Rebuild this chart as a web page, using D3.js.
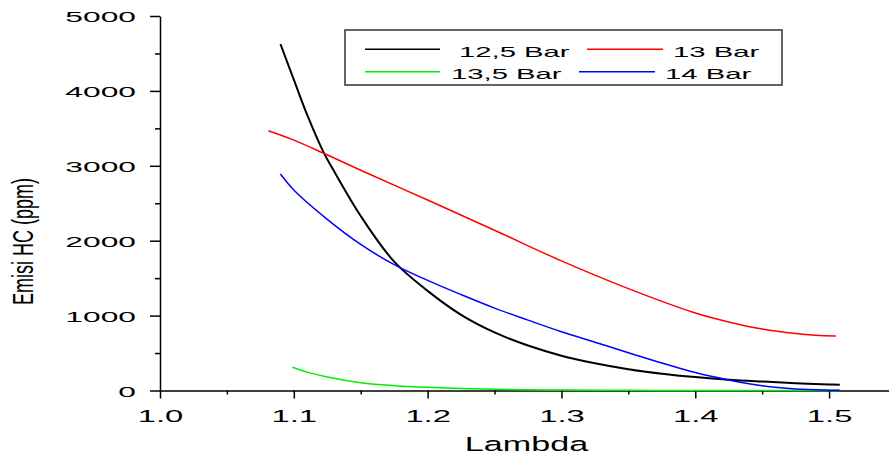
<!DOCTYPE html>
<html>
<head>
<meta charset="utf-8">
<script src="https://d3js.org/d3.v7.min.js"></script>
<style>
  body { margin: 0; background: #fff; }
  text { font-family: "Liberation Sans", Arial, sans-serif; fill: #000; }
</style>
</head>
<body>
<div id="chart"></div>
<script>
////////////////////////////////////////////////////////////
//////////////////////// Data //////////////////////////////
////////////////////////////////////////////////////////////

var names = ['12,5 Bar', '13 Bar', '13,5 Bar', '14 Bar'],
    colors = ['#000000', '#ff0000', '#00ee00', '#0000ff'],
    widths = [2, 1.5, 1.5, 1.5];

var lambda125 = [1.09, 1.10, 1.11, 1.122, 1.13, 1.15, 1.175, 1.2, 1.225, 1.25, 1.275, 1.3, 1.325, 1.35,
                 1.375, 1.4, 1.425, 1.45, 1.475, 1.5, 1.508],
    hc125     = [4626, 4150, 3680, 3190, 2930, 2330, 1720, 1330, 1010, 775, 600, 465, 365, 285,
                 225, 180, 145, 120, 98, 80, 76];

var lambda13 = [1.081, 1.1, 1.122, 1.15, 1.2, 1.25, 1.3, 1.35, 1.4, 1.425, 1.45, 1.475, 1.49, 1.505],
    hc13     = [3468, 3343, 3170, 2940, 2543, 2140, 1730, 1360, 1035, 915, 820, 760, 738, 728];

var lambda135 = [1.099, 1.11, 1.125, 1.15, 1.175, 1.2, 1.25, 1.3, 1.35, 1.4, 1.45, 1.508],
    hc135     = [310, 245, 180, 104, 65, 43, 16, 6, 2, 1, 0, 0];

var lambda14 = [1.09, 1.1, 1.125, 1.15, 1.175, 1.2, 1.225, 1.25, 1.275, 1.3, 1.325, 1.35, 1.375,
                1.4, 1.425, 1.45, 1.475, 1.5, 1.508],
    hc14     = [2890, 2677, 2285, 1950, 1680, 1470, 1280, 1100, 940, 785, 645, 505, 368,
                240, 140, 62, 20, 5, 3];

var xTicks = [1.0, 1.1, 1.2, 1.3, 1.4, 1.5],
    xMinor = [1.05, 1.15, 1.25, 1.35, 1.45],
    yTicks = [0, 1000, 2000, 3000, 4000, 5000],
    yMinor = [500, 1500, 2500, 3500, 4500];

var series = [
  { name: names[0], x: lambda125, y: hc125 },
  { name: names[1], x: lambda13,  y: hc13 },
  { name: names[2], x: lambda135, y: hc135 },
  { name: names[3], x: lambda14,  y: hc14 }
];

////////////////////////////////////////////////////////////
////////////////////// Create SVG //////////////////////////
////////////////////////////////////////////////////////////

var width = 889, height = 464;

var svg = d3.select("#chart").append("svg")
  .attr("width", width)
  .attr("height", height);

var x = d3.scaleLinear().domain([1.0, 1.55]).range([160, 896]),
    y = d3.scaleLinear().domain([0, 5000]).range([390.5, 16]);

////////////////////////////////////////////////////////////
////////////////////// Axes ////////////////////////////////
////////////////////////////////////////////////////////////

// y axis, major + minor ticks
var yAxis = svg.append("g")
  .attr("transform", "translate(160,0)")
  .call(d3.axisLeft(y).tickValues(yTicks).tickSize(10).tickSizeOuter(0)
    .tickFormat(d3.format("d")));

yAxis.selectAll("text")
  .attr("x", null).attr("dy", null)
  .attr("text-anchor", "end")
  .style("font-size", "15.5px")
  .attr("transform", "translate(-24,5.5) scale(2.05,1)");

svg.append("g")
  .attr("transform", "translate(160,0)")
  .call(d3.axisLeft(y).tickValues(yMinor).tickSize(5).tickFormat(""))
  .select(".domain").remove();

// x axis
var xAxis = svg.append("g")
  .attr("transform", "translate(0,390.5)")
  .call(d3.axisBottom(x).tickValues(xTicks).tickSize(8).tickSizeOuter(0)
    .tickFormat(d3.format(".1f")));

xAxis.selectAll("text")
  .attr("y", null).attr("dy", null)
  .attr("text-anchor", "middle")
  .style("font-size", "16.8px")
  .attr("transform", "translate(0,31.5) scale(1.95,1)");

svg.append("g")
  .attr("transform", "translate(0,390.5)")
  .call(d3.axisBottom(x).tickValues(xMinor).tickSize(4).tickFormat(""))
  .select(".domain").remove();

svg.selectAll(".domain, .tick line")
  .attr("stroke", "#000")
  .attr("stroke-width", 1.5);

// axis titles
svg.append("text")
  .attr("text-anchor", "middle")
  .style("font-size", "19.5px")
  .attr("transform", "translate(526.5,451) scale(1.75,1)")
  .text("Lambda");

svg.append("text")
  .attr("text-anchor", "middle")
  .style("font-size", "18px")
  .attr("transform", "translate(33,241.5) scale(1.6,1) rotate(-90)")
  .text("Emisi HC (ppm)");

////////////////////////////////////////////////////////////
////////////////////// Lines ///////////////////////////////
////////////////////////////////////////////////////////////

var line = d3.line()
  .x(function(d) { return x(d[0]); })
  .y(function(d) { return y(d[1]); })
  .curve(d3.curveCatmullRom.alpha(0.5));

svg.selectAll("path.curve")
  .data(series)
  .enter().append("path")
  .attr("class", "curve")
  .attr("fill", "none")
  .attr("stroke", function(d, i) { return colors[i]; })
  .attr("stroke-width", function(d, i) { return widths[i]; })
  .attr("d", function(d) { return line(d3.zip(d.x, d.y)); });

////////////////////////////////////////////////////////////
////////////////////// Legend //////////////////////////////
////////////////////////////////////////////////////////////

svg.append("rect")
  .attr("x", 345).attr("y", 30)
  .attr("width", 437).attr("height", 55)
  .attr("fill", "#fff")
  .attr("stroke", "#333")
  .attr("stroke-width", 1.5);

// line start, line end, text start, row
var legendPos = [
  [365, 440, 459, 0],
  [587, 663, 673, 0],
  [365, 440, 451, 1],
  [579, 655, 665, 1]
];

legendPos.forEach(function(p, i) {
  var ly = 49.3 + p[3] * 22.5;
  svg.append("line")
    .attr("x1", p[0]).attr("x2", p[1])
    .attr("y1", ly).attr("y2", ly)
    .attr("stroke", colors[i])
    .attr("stroke-width", 1.5);
  svg.append("text")
    .style("font-size", "15.4px")
    .attr("transform", "translate(" + p[2] + "," + (ly + 7.5) + ") scale(1.9,1)")
    .text(names[i]);
});
</script>
</body>
</html>
